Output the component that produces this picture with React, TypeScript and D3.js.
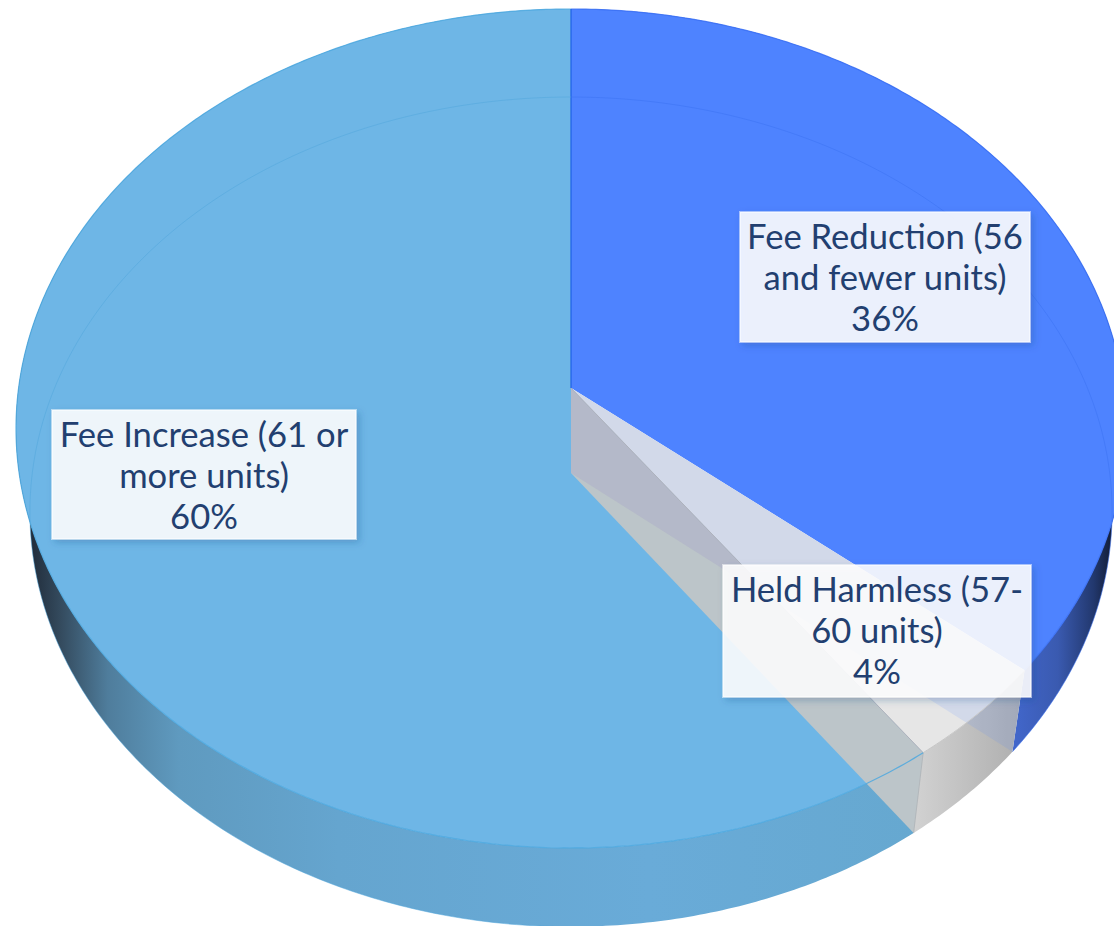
import React from "react";
import * as d3 from "d3";

// Share of projects per fee outcome, clockwise from twelve o'clock.
const categories = ["Fee Reduction (56 and fewer units)", "Held Harmless (57-60 units)", "Fee Increase (61 or more units)"];
const shares = [36, 4, 60];
const labelLines = [
  ["Fee Reduction (56", "and fewer units)", "36%"],
  ["Held Harmless (57-", "60 units)", "4%"],
  ["Fee Increase (61 or", "more units)", "60%"],
];
const labelBoxes = [
  { x: 740, y: 212, w: 290, h: 130 },
  { x: 723, y: 565, w: 308, h: 132 },
  { x: 52, y: 410, w: 304, h: 129 },
];

const WIDTH = 1114;
const HEIGHT = 926;

type Face = { cx: number; cy: number; rx: number; ry: number; k: number };

// Perspective-tilted disc: the lid and the base of the cylinder.
const lid: Face = { cx: 571, cy: 388, rx: 552.4, ry: 415.6, k: 0.0965 };
const base: Face = { cx: 571, cy: 473, rx: 538.7, ry: 411.2, k: 0.0937 };

const project = (f: Face, a: number): [number, number] => {
  const u = Math.sin(a);
  const v = -Math.cos(a);
  const w = 1 - f.k * v;
  return [f.cx + (f.rx * u) / w, f.cy + (f.ry * v) / w];
};

const arcPoints = (f: Face, a0: number, a1: number): [number, number][] => {
  const n = Math.max(2, Math.ceil(Math.abs(a1 - a0) / 0.01));
  return d3.range(n + 1).map((i) => project(f, a0 + ((a1 - a0) * i) / n));
};

const line = d3.line<[number, number]>();
const closed = (pts: [number, number][]) => line(pts) + "Z";

const pie = d3.pie<number>().sort(null).value((d) => d);
const arcs = pie(shares);
const [reduction, held, increase] = arcs;

const apex = (f: Face): [number, number] => [f.cx, f.cy];

const sector = (f: Face, a0: number, a1: number) => closed([apex(f), ...arcPoints(f, a0, a1)]);
const outerWall = (a0: number, a1: number) =>
  closed([...arcPoints(lid, a0, a1), ...arcPoints(base, a1, a0)]);

const heldLid = sector(lid, held.startAngle, held.endAngle);
const heldInner = closed([
  apex(lid),
  apex(base),
  project(base, held.endAngle),
  project(lid, held.endAngle),
]);
const heldOuter = outerWall(held.startAngle, held.endAngle);

const FONT = "Lato, 'Open Sans', sans-serif";

export default function App() {
  return (
    <svg
      width={WIDTH}
      height={HEIGHT}
      viewBox={`0 0 ${WIDTH} ${HEIGHT}`}
      style={{ position: "absolute", left: 0, top: 0, display: "block", background: "#fff" }}
    >
      <defs>
        <linearGradient id="wallIncrease" gradientUnits="userSpaceOnUse" x1={28} x2={915} y1={0} y2={0}>
          <stop offset="0" stopColor="#1f2a38" />
          <stop offset="0.035" stopColor="#33495c" />
          <stop offset="0.09" stopColor="#4f7d9c" />
          <stop offset="0.17" stopColor="#5f9abf" />
          <stop offset="0.35" stopColor="#65a5cf" />
          <stop offset="0.7" stopColor="#69abd8" />
          <stop offset="1" stopColor="#66a8d0" />
        </linearGradient>
        <linearGradient id="wallReduction" gradientUnits="userSpaceOnUse" x1={1012} x2={1114} y1={0} y2={0}>
          <stop offset="0" stopColor="#4267cc" />
          <stop offset="0.45" stopColor="#3a5ab0" />
          <stop offset="0.8" stopColor="#22386e" />
          <stop offset="1" stopColor="#111a30" />
        </linearGradient>
        <linearGradient id="wallHeld" gradientUnits="userSpaceOnUse" x1={914} x2={1025} y1={0} y2={0}>
          <stop offset="0" stopColor="#d2d2d2" />
          <stop offset="1" stopColor="#adadad" />
        </linearGradient>
        <clipPath id="heldWedge">
          <path d={heldLid} />
          <path d={heldOuter} />
        </clipPath>
        <clipPath id="heldWall">
          <path d={heldInner} />
        </clipPath>
        <filter id="boxShadow" x="-10%" y="-10%" width="125%" height="125%">
          <feDropShadow dx="3" dy="3" stdDeviation="3.5" floodColor="#1b4a80" floodOpacity="0.3" />
        </filter>
      </defs>

      {/* Outer walls */}
      <path d={outerWall(increase.startAngle, increase.endAngle)} fill="url(#wallIncrease)" />
      <path d={outerWall(reduction.startAngle, reduction.endAngle)} fill="url(#wallReduction)" />

      {/* Lids of the two coloured slices */}
      <path d={sector(lid, increase.startAngle, increase.endAngle)} fill="#6EB6E6" />
      <path d={sector(lid, reduction.startAngle, reduction.endAngle)} fill="#4E83FF" />

      {/* The pale slice sits over the lids, so its inner wall stays visible */}
      <path d={heldOuter} fill="url(#wallHeld)" />
      <path d={heldLid} fill="#E6E6E6" />
      <path d={heldInner} fill="#BCC5C9" />

      {/* Base of the blue slice showing through the pale one */}
      <path d={sector(base, reduction.startAngle, reduction.endAngle)} fill="#4E83FF" fillOpacity={0.13} clipPath="url(#heldWedge)" />
      <path d={sector(base, reduction.startAngle, reduction.endAngle)} fill="#8670C9" fillOpacity={0.13} clipPath="url(#heldWall)" />

      <path d={line([project(lid, held.endAngle), project(base, held.endAngle)])!} stroke="#b4b8bb" strokeWidth={1} fill="none" />
      <path d={line([apex(lid), project(lid, held.endAngle)])!} stroke="#aeb2bc" strokeWidth={1} fill="none" />
      <path d={line(arcPoints(lid, held.startAngle, held.endAngle))!} stroke="#c6c6c6" strokeWidth={1} fill="none" />

      {/* Rim lines */}
      <path d={line(arcPoints(lid, increase.startAngle, increase.endAngle))!} stroke="#4CA8DF" strokeOpacity={0.85} strokeWidth={1.2} fill="none" />
      <path d={line(arcPoints(lid, reduction.startAngle, reduction.endAngle))!} stroke="#3A70F5" strokeOpacity={0.85} strokeWidth={1.2} fill="none" />
      <path d={line([apex(lid), project(lid, 0)])!} stroke="#1E62E4" strokeWidth={1.2} fill="none" />

      {/* Base rim faintly visible through the lids */}
      <path d={line(arcPoints(base, increase.startAngle + 0.62, increase.endAngle))!} stroke="#4FA6DC" strokeOpacity={0.5} strokeWidth={1} fill="none" />
      <path d={line(arcPoints(base, reduction.startAngle, reduction.endAngle))!} stroke="#3C72F2" strokeOpacity={0.55} strokeWidth={1} fill="none" />

      {/* Labels */}
      {categories.map((name, i) => {
        const box = labelBoxes[i];
        const mid = box.x + box.w / 2;
        return (
          <g key={name}>
            <rect
              x={box.x}
              y={box.y}
              width={box.w}
              height={box.h}
              fill="#ffffff"
              fillOpacity={0.88}
              stroke="#ffffff"
              strokeOpacity={0.5}
              strokeWidth={2}
              filter="url(#boxShadow)"
            />
            {labelLines[i].map((t, j) => (
              <text
                key={t}
                x={mid}
                y={box.y + 37 + j * 41}
                textAnchor="middle"
                fontFamily={FONT}
                fontSize={34.6}
                fill="#223F70"
              >
                {t}
              </text>
            ))}
          </g>
        );
      })}
    </svg>
  );
}
